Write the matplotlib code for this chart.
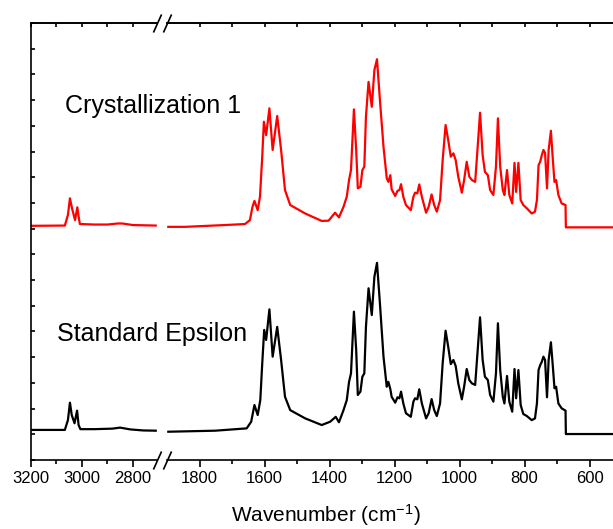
import numpy as np
import matplotlib.pyplot as plt

plt.rcParams['font.family'] = ['Liberation Sans', 'DejaVu Sans']
plt.rcParams['mathtext.default'] = 'regular'

# C-H stretching region (left panel)
wn_ch_cryst = [3200, 3067, 3055, 3047, 3039, 3027, 3018, 3012, 3008, 2950, 2900, 2860, 2840, 2800, 2710]
cryst_ch = [0.06, 0.07, 0.48, 1.13, 0.75, 0.28, 0.78, 0.36, 0.13, 0.11, 0.11, 0.15, 0.15, 0.09, 0.07]

wn_ch_std = [3200, 3067, 3055, 3047, 3040, 3029, 3019, 3013, 3006, 2950, 2880, 2850, 2810, 2760, 2710]
std_ch = [0.16, 0.16, 0.54, 1.22, 0.74, 0.42, 0.91, 0.35, 0.19, 0.19, 0.21, 0.25, 0.18, 0.14, 0.13]

# fingerprint region (right panel)
wn_fp_cryst = [1896, 1845, 1722, 1660, 1645, 1637, 1631, 1621, 1614, 1607,
               1602, 1595, 1585, 1575, 1561, 1549, 1537, 1521, 1475, 1424,
               1403, 1383, 1371, 1357, 1347, 1340, 1334, 1325, 1318, 1313,
               1305, 1299, 1293, 1288, 1280, 1270, 1262, 1254, 1245, 1234,
               1224, 1219, 1213, 1209, 1198, 1191, 1185, 1180, 1173, 1165,
               1150, 1142, 1137, 1130, 1124, 1116, 1103, 1095, 1086, 1078,
               1070, 1060, 1052, 1043, 1035, 1027, 1019, 1012, 1004, 993,
               986, 978, 970, 962, 952, 945, 937, 929, 922, 913,
               906, 896, 888, 882, 875, 867, 862, 854, 847, 838,
               831, 826, 819, 812, 804, 793, 778, 768, 762, 757,
               752, 747, 742, 737, 731, 726, 719, 713, 708, 703,
               696, 686, 674, 673, 528]
cryst_fp = [0.02, 0.02, 0.09, 0.13, 0.28, 0.80, 1.03, 0.67, 1.19, 2.75,
            4.11, 3.59, 4.63, 3.01, 4.33, 3.01, 1.45, 0.87, 0.54, 0.25,
            0.26, 0.57, 0.39, 0.80, 1.19, 1.84, 2.23, 4.59, 3.01, 1.52,
            1.58, 2.23, 2.36, 4.30, 5.66, 4.69, 6.12, 6.54, 4.95, 3.14,
            1.91, 1.77, 2.03, 1.48, 1.22, 1.42, 1.45, 1.68, 1.19, 0.87,
            0.67, 1.19, 1.35, 1.32, 1.67, 1.19, 0.57, 0.80, 1.28, 0.87,
            0.61, 1.06, 2.62, 3.98, 3.40, 2.75, 2.88, 2.62, 1.97, 1.35,
            1.84, 2.55, 1.97, 1.84, 1.77, 3.01, 4.46, 2.81, 2.16, 2.03,
            1.45, 1.26, 2.36, 4.24, 2.36, 1.45, 1.26, 2.23, 1.26, 0.93,
            2.51, 1.38, 2.51, 1.06, 0.87, 0.74, 0.54, 0.61, 1.06, 2.42,
            2.55, 2.81, 3.01, 2.90, 1.52, 3.01, 3.76, 2.62, 1.77, 1.84,
            1.26, 0.93, 0.87, 0.0, 0.0]

wn_fp_std = [1896, 1752, 1655, 1641, 1631, 1621, 1613, 1607, 1601, 1595,
             1585, 1575, 1561, 1549, 1537, 1521, 1475, 1424, 1398, 1381,
             1371, 1357, 1347, 1340, 1334, 1325, 1318, 1313, 1305, 1299,
             1293, 1288, 1280, 1270, 1262, 1254, 1245, 1234, 1224, 1219,
             1213, 1209, 1198, 1191, 1185, 1180, 1173, 1165, 1150, 1142,
             1137, 1130, 1124, 1116, 1103, 1095, 1086, 1078, 1070, 1060,
             1052, 1043, 1035, 1027, 1019, 1012, 1004, 993, 986, 978,
             970, 962, 952, 945, 937, 929, 922, 913, 906, 896,
             888, 882, 875, 867, 862, 854, 847, 838, 831, 826,
             819, 812, 804, 793, 778, 768, 762, 757, 752, 747,
             742, 737, 731, 726, 719, 713, 708, 703, 696, 686,
             674, 673, 528]
std_fp = [0.09, 0.13, 0.22, 0.48, 1.13, 0.74, 1.32, 2.75, 4.05, 3.66,
          4.85, 3.01, 4.17, 2.88, 1.45, 0.93, 0.61, 0.35, 0.48, 0.67,
          0.46, 0.93, 1.32, 2.03, 2.36, 4.76, 3.27, 1.52, 1.65, 2.23,
          2.36, 4.17, 5.67, 4.63, 6.12, 6.66, 5.08, 3.01, 1.84, 2.03,
          1.75, 1.45, 1.22, 1.43, 1.39, 1.65, 1.19, 0.81, 0.67, 1.26,
          1.39, 1.35, 1.74, 1.19, 0.61, 0.81, 1.36, 0.93, 0.70, 1.19,
          2.75, 4.02, 3.40, 2.72, 2.88, 2.65, 1.97, 1.35, 1.84, 2.53,
          2.10, 1.97, 1.91, 3.14, 4.54, 2.88, 2.23, 2.10, 1.52, 1.26,
          2.36, 4.31, 2.49, 1.45, 1.19, 2.26, 1.26, 0.87, 2.53, 1.39,
          2.49, 1.13, 0.78, 0.70, 0.54, 0.61, 1.19, 2.49, 2.68, 2.81,
          3.01, 2.88, 1.43, 2.88, 3.57, 2.62, 1.78, 1.84, 1.19, 1.00,
          0.91, 0.0, 0.0]

offset_cryst = 9.05
offset_std = 1.01

fig = plt.figure(figsize=(6.13, 5.29), dpi=100)
ax1 = fig.add_axes([31/613, 69/529, 126/613, 437/529])
ax2 = fig.add_axes([167/613, 69/529, 446/613, 437/529])

lw = 1.6
kw = dict(lw=lw, solid_joinstyle='round')
ax1.plot(wn_ch_cryst, np.array(cryst_ch) + offset_cryst, color='#ff0000', **kw)
ax1.plot(wn_ch_std, np.array(std_ch) + offset_std, color='black', **kw)
ax2.plot(wn_fp_cryst, np.array(cryst_fp) + offset_cryst, color='#ff0000', **kw)
ax2.plot(wn_fp_std, np.array(std_fp) + offset_std, color='black', **kw)

ax1.set_xlim(3200, 2705)
ax2.set_xlim(1900, 528)
for ax in (ax1, ax2):
    ax.set_ylim(0, 17)
    for sp in ax.spines.values():
        sp.set_linewidth(1.2)

ax1.spines['right'].set_visible(False)
ax2.spines['left'].set_visible(False)
ax2.spines['right'].set_visible(False)

ax1.set_xticks([3200, 3000, 2800])
ax1.set_xticks([3100, 2900], minor=True)
ax2.set_xticks([1800, 1600, 1400, 1200, 1000, 800, 600])
ax2.set_xticks([1700, 1500, 1300, 1100, 900, 700], minor=True)

for ax in (ax1, ax2):
    ax.tick_params(axis='x', which='major', direction='out', length=5, width=1.2,
                   labelsize=12, pad=3)
    ax.tick_params(axis='x', which='minor', direction='out', length=3, width=1.2)
    top = ax.secondary_xaxis('top')
    top.set_xticks(ax.get_xticks())
    top.set_xticks(ax.get_xticks(minor=True), minor=True)
    top.tick_params(which='both', direction='in', length=3, width=1.2, labeltop=False)
    top.spines['top'].set_linewidth(1.2)

ax1.set_yticks(np.arange(0, 18))
ax1.tick_params(axis='y', direction='in', length=3, width=1.2, labelleft=False)
ax2.set_yticks([])

# axis break marks
brk = dict(marker=[(-0.45, -1), (0.45, 1)], markersize=13, linestyle='none',
           color='k', mec='k', mew=1.2, clip_on=False)
ax1.plot([1, 1], [0, 1], transform=ax1.transAxes, **brk)
ax2.plot([0, 0], [0, 1], transform=ax2.transAxes, **brk)

fig.text(65/613, 1 - 112.5/529, 'Crystallization 1', fontsize=18, va='baseline', ha='left')
fig.text(57/613, 1 - 341.5/529, 'Standard Epsilon', fontsize=18, va='baseline', ha='left')
fig.text(326/613, 1 - 522/529, 'Wavenumber (cm$^{\\mathregular{-1}}$)', fontsize=15,
         va='baseline', ha='center')

fig.savefig('out.png', dpi=100)
